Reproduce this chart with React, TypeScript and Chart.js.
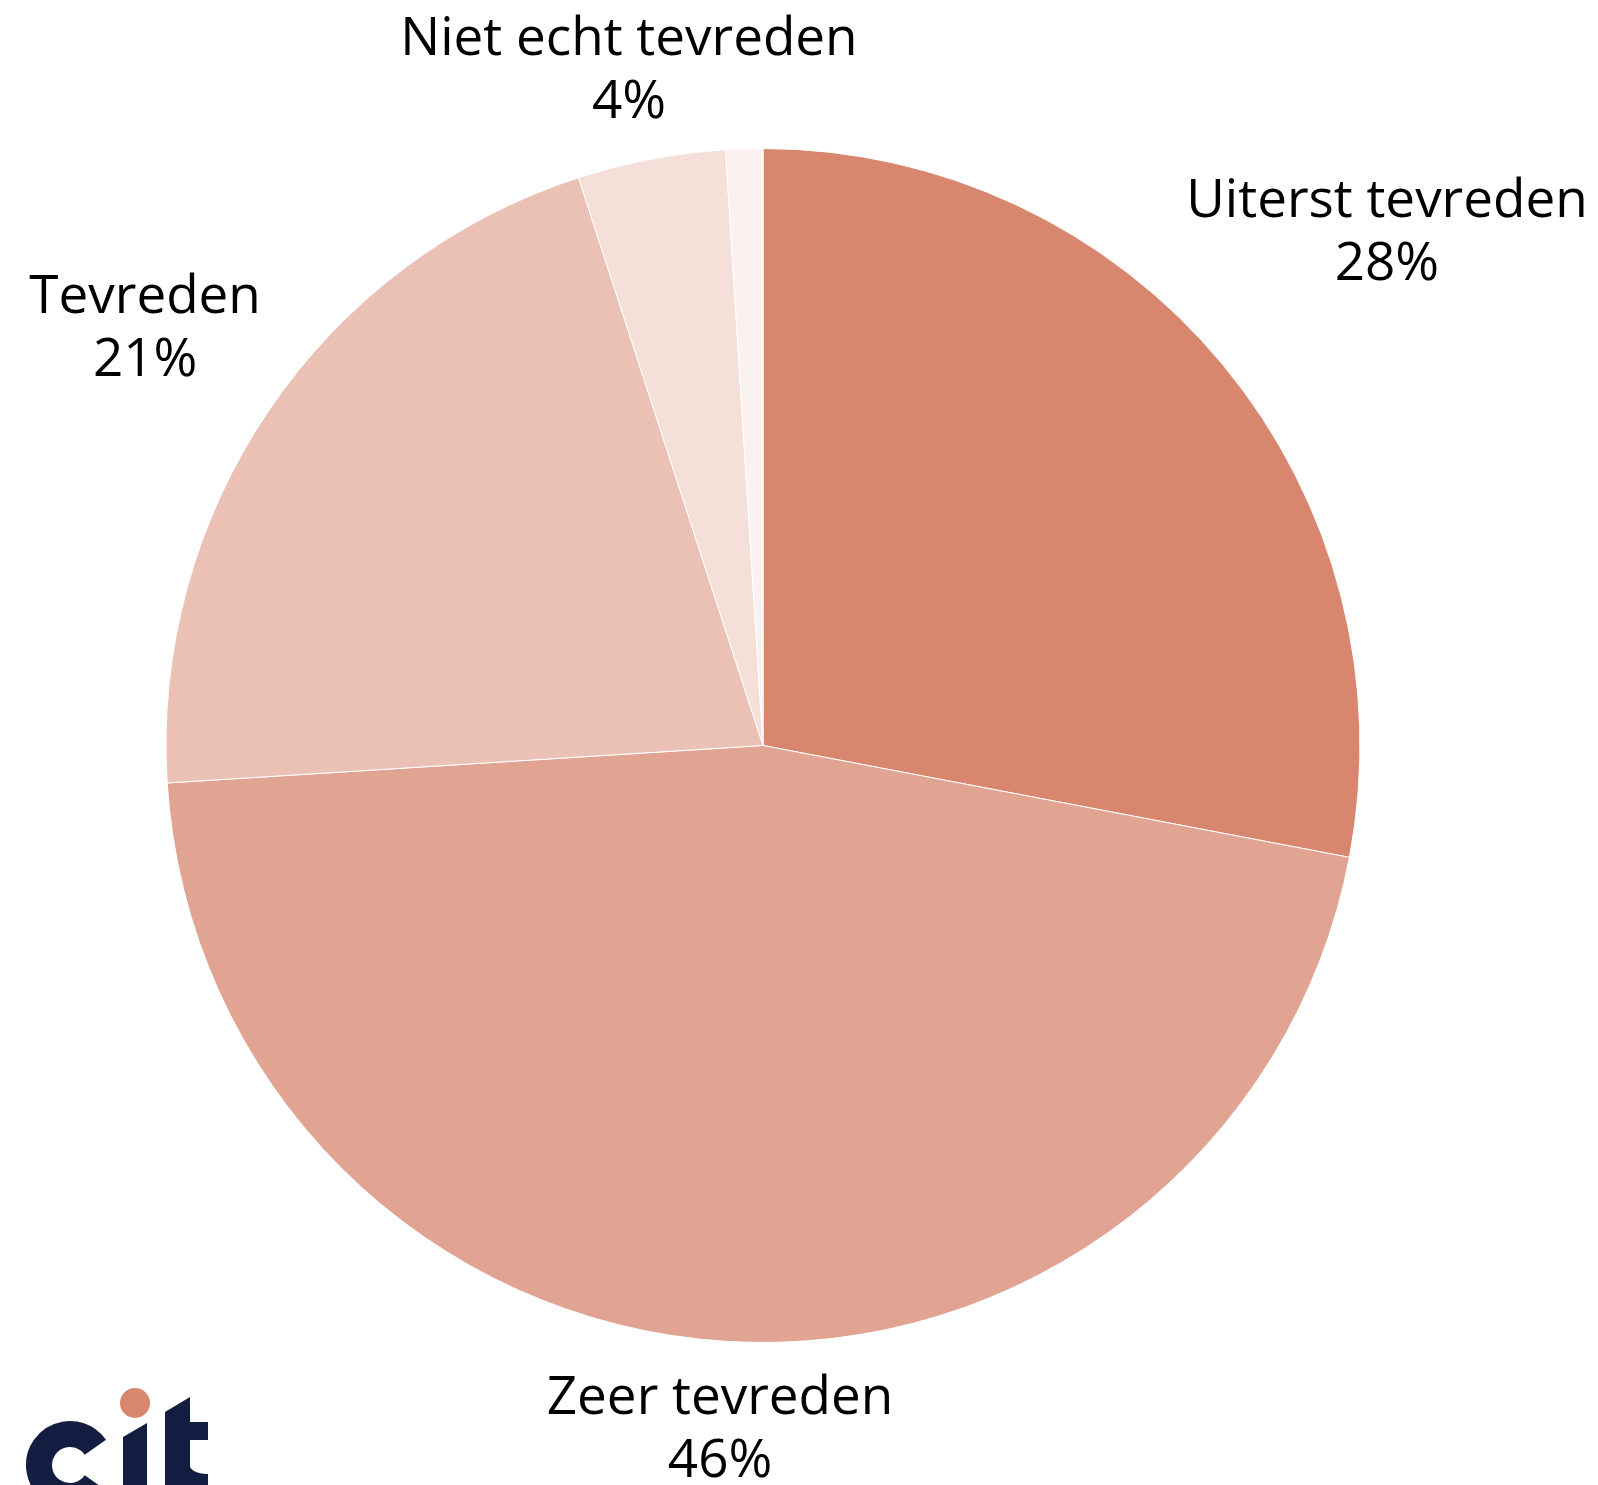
import React, { useEffect, useRef } from "react";
import { Chart, registerables } from "chart.js";

Chart.register(...registerables);

const categories = [
  "Uiterst tevreden",
  "Zeer tevreden",
  "Tevreden",
  "Niet echt tevreden",
  "Helemaal niet tevreden",
];
const values = [28, 46, 21, 4, 1];
const showLabel = [true, true, true, true, false];
const colors = ["#D8876E", "#E1A392", "#ECC1B5", "#F5DFD9", "#FBF1EE"];

const W = 1598;
const H = 1485;
const FONT_SIZE = 53;
const LINE_H = 63;
const GAP = 26;

const labelPlugin = {
  id: "outsideLabels",
  afterDraw(chart: any) {
    const ctx = chart.ctx as CanvasRenderingContext2D;
    const meta = chart.getDatasetMeta(0);
    ctx.save();
    ctx.font = `${FONT_SIZE}px "Open Sans"`;
    ctx.fillStyle = "#000000";
    ctx.textAlign = "center";
    ctx.textBaseline = "alphabetic";
    const capH = FONT_SIZE * 0.714;
    meta.data.forEach((arc: any, i: number) => {
      if (!showLabel[i]) return;
      const { x, y, startAngle, endAngle, outerRadius } = arc.getProps(
        ["x", "y", "startAngle", "endAngle", "outerRadius"],
        true
      );
      const mid = (startAngle + endAngle) / 2;
      const c = Math.cos(mid);
      const s = Math.sin(mid);
      const lines = [categories[i], `${values[i]}%`];
      const hw = Math.max(...lines.map((l) => ctx.measureText(l).width)) / 2;
      const hh = (capH + LINE_H) / 2;
      const support = hw * Math.abs(c) + hh * Math.abs(s);
      const dist = outerRadius + GAP + support;
      let cx = x + dist * c;
      let cy = y + dist * s;
      cx = Math.min(Math.max(cx, hw + 4), chart.width - hw - 4);
      cy = Math.min(Math.max(cy, hh + 17), chart.height - hh - 8);
      const b1 = cy - hh + capH;
      ctx.fillText(lines[0], cx, b1);
      ctx.fillText(lines[1], cx, b1 + LINE_H);
    });
    ctx.restore();

    // logo "cit"
    const navy = "#131D42";
    ctx.save();
    ctx.fillStyle = navy;
    ctx.strokeStyle = navy;
    ctx.lineWidth = 26;
    ctx.beginPath();
    ctx.arc(70, 1465, 31, (35 * Math.PI) / 180, (325 * Math.PI) / 180);
    ctx.stroke();
    ctx.beginPath();
    ctx.moveTo(123, 1437);
    ctx.lineTo(147, 1423);
    ctx.lineTo(147, 1490);
    ctx.lineTo(123, 1490);
    ctx.closePath();
    ctx.fill();
    ctx.beginPath();
    ctx.moveTo(165, 1412);
    ctx.lineTo(190, 1397);
    ctx.lineTo(190, 1490);
    ctx.lineTo(165, 1490);
    ctx.closePath();
    ctx.fill();
    ctx.fillRect(188, 1422, 20, 18);
    ctx.beginPath();
    ctx.moveTo(188, 1462);
    ctx.quadraticCurveTo(190, 1474, 208, 1474);
    ctx.lineTo(208, 1490);
    ctx.lineTo(188, 1490);
    ctx.closePath();
    ctx.fill();
    ctx.fillStyle = "#D8876E";
    ctx.beginPath();
    ctx.arc(135, 1403, 15, 0, Math.PI * 2);
    ctx.fill();
    ctx.restore();
  },
};

export default function App() {
  const ref = useRef<HTMLCanvasElement>(null);
  useEffect(() => {
    if (!ref.current) return;
    const chart = new Chart(ref.current, {
      type: "pie",
      data: {
        labels: categories,
        datasets: [
          {
            data: values,
            backgroundColor: colors,
            borderColor: "#ffffff",
            borderWidth: 1,
          },
        ],
      },
      options: {
        responsive: false,
        animation: false,
        layout: { padding: { left: 165, top: 148, right: 237, bottom: 142 } },
        plugins: {
          legend: { display: false },
          tooltip: { enabled: false },
        },
      },
      plugins: [labelPlugin],
    });
    return () => chart.destroy();
  }, []);
  return (
    <div style={{ position: "absolute", left: 0, top: 0, width: W, height: H, background: "#fff" }}>
      <canvas ref={ref} width={W} height={H} style={{ width: W, height: H, display: "block" }} />
    </div>
  );
}
